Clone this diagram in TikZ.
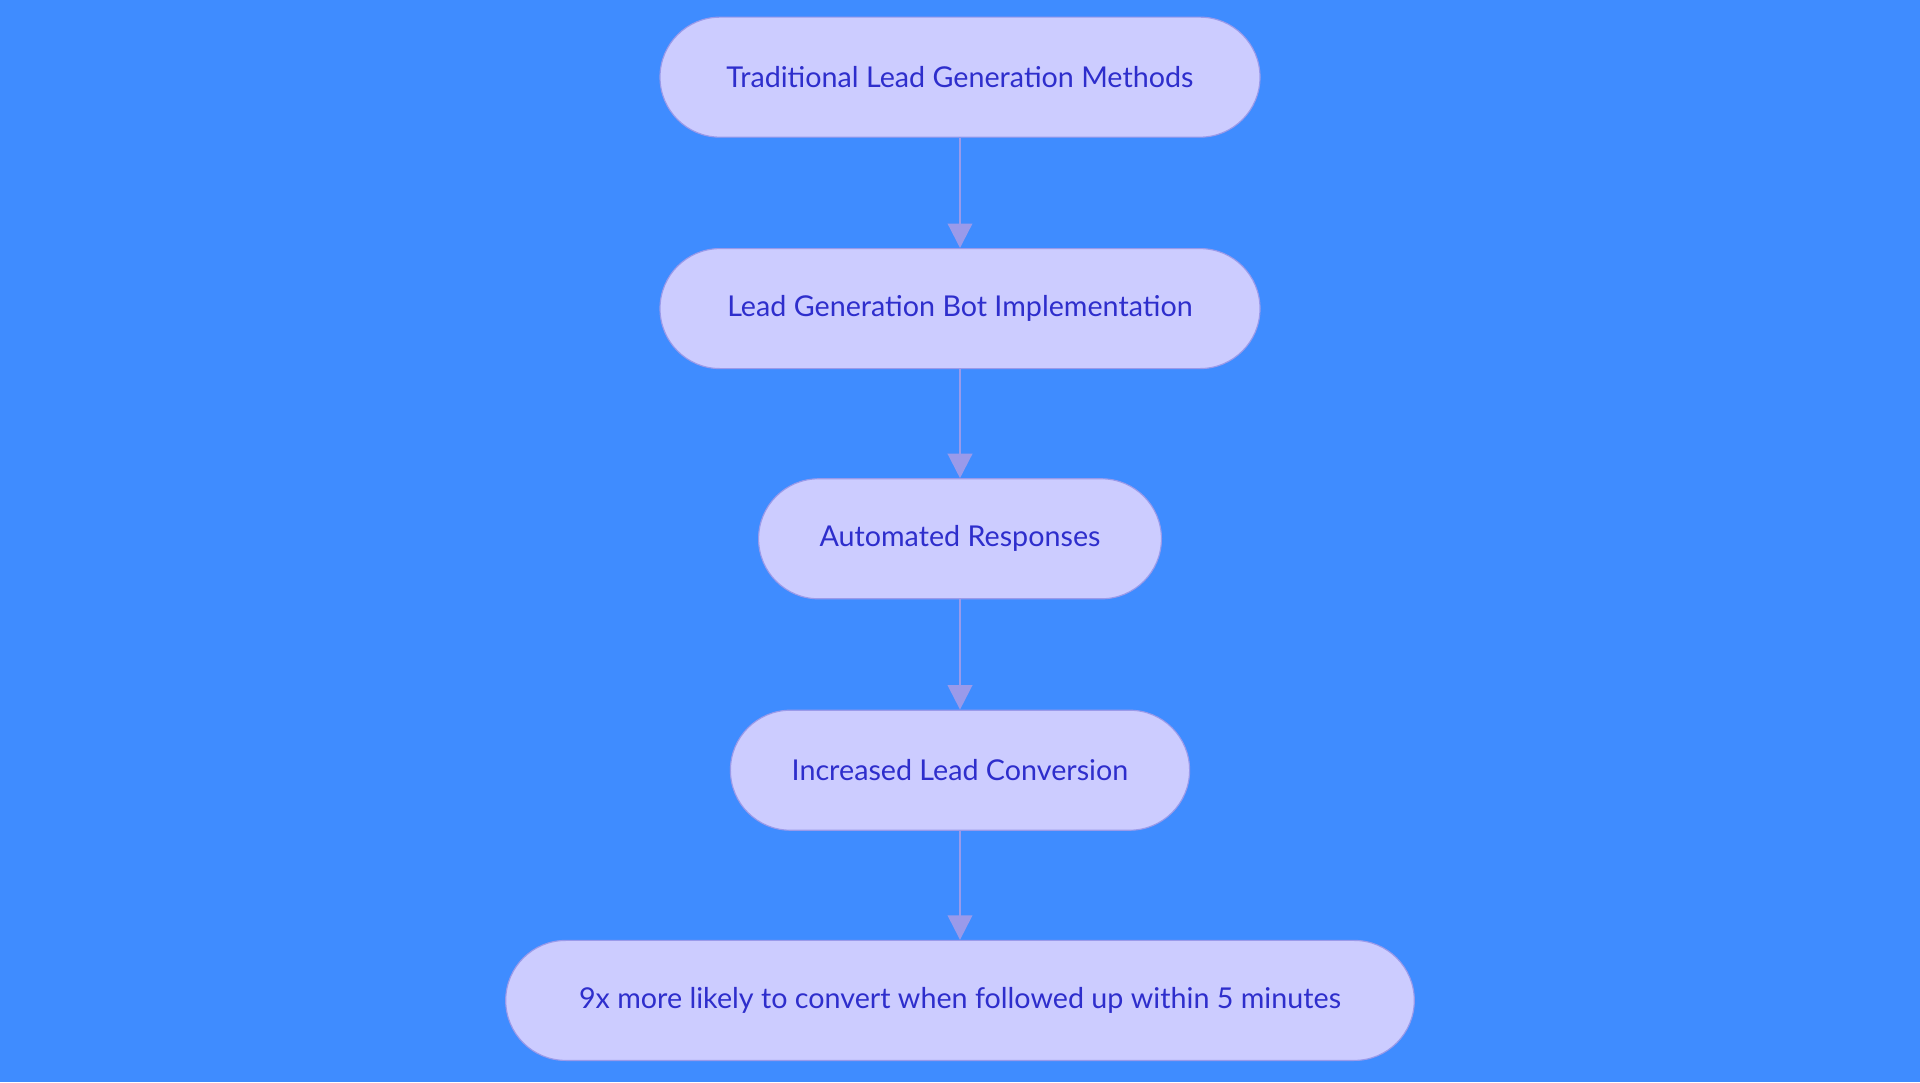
\documentclass[tikz,border=0pt]{standalone}
\usepackage{fontspec}
\setmainfont{Lato}
\usetikzlibrary{arrows.meta}
\definecolor{bg}{HTML}{3F8CFF}
\definecolor{nodefill}{HTML}{CCCCFF}
\definecolor{nodeborder}{HTML}{9A9AEA}
\definecolor{txt}{HTML}{2E2ECC}
\definecolor{arr}{HTML}{9A9AEA}
\begin{document}
\begin{tikzpicture}[x=0.03cm,y=-0.03cm,
  box/.style={draw=nodeborder,line width=0.8pt,fill=nodefill,rounded corners=1.47cm,minimum height=2.94cm,text=txt,font=\fontsize{20}{24}\selectfont,inner sep=0pt},
  conn/.style={draw=arr,line width=1.6pt,-{Triangle[length=0.6cm,width=0.6cm]}}]
\fill[bg] (0,0) rectangle (1568,884);
\node[box,minimum width=490*0.03cm] (a) at (784,63) {Traditional Lead Generation Methods};
\node[box,minimum width=490*0.03cm] (b) at (784,252) {Lead Generation Bot Implementation};
\node[box,minimum width=329*0.03cm] (c) at (784,440) {Automated Responses};
\node[box,minimum width=375*0.03cm] (d) at (784,629) {Increased Lead Conversion};
\node[box,minimum width=742*0.03cm] (e) at (784,817) {9x more likely to convert when followed up within 5 minutes};
\draw[conn] (a) -- (b);
\draw[conn] (b) -- (c);
\draw[conn] (c) -- (d);
\draw[conn] (d) -- (e);
\end{tikzpicture}
\end{document}
